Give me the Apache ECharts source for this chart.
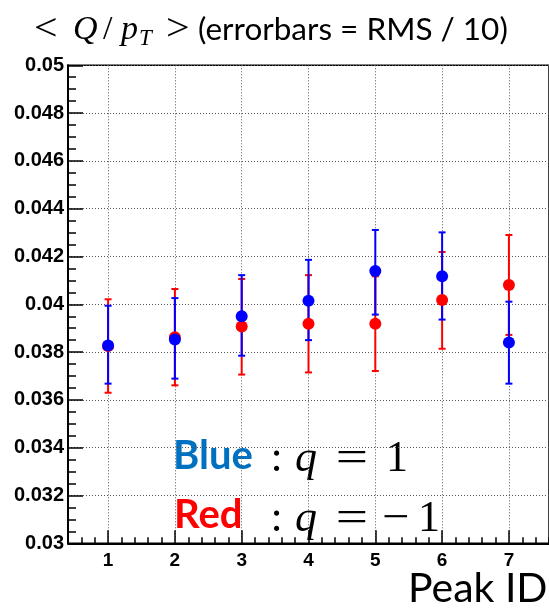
<!DOCTYPE html>
<html>
<head>
<meta charset="utf-8">
<script src="https://cdn.jsdelivr.net/npm/echarts@6/dist/echarts.min.js"></script>
<style>
html,body{margin:0;padding:0;background:#fff;}
#c{width:549px;height:609px;}
</style>
</head>
<body>
<div id="c"></div>
<script>
// Data
var peaks = [1, 2, 3, 4, 5, 6, 7];
var blueMean = [0.03828, 0.03853, 0.03950, 0.04015, 0.04139, 0.04117, 0.03840];
var blueLow  = [0.03668, 0.03689, 0.03785, 0.03850, 0.03957, 0.03936, 0.03668];
var blueHigh = [0.03994, 0.04026, 0.04122, 0.04186, 0.04311, 0.04301, 0.04011];
var redMean  = [0.03825, 0.03862, 0.03907, 0.03919, 0.03919, 0.04018, 0.04081];
var redLow   = [0.03630, 0.03661, 0.03706, 0.03715, 0.03721, 0.03814, 0.03872];
var redHigh  = [0.04021, 0.04064, 0.04106, 0.04122, 0.04117, 0.04219, 0.04290];

var BLUE = '#0000ff', RED = '#ff0000';

function pts(mean){ return peaks.map(function(p,i){ return [p, mean[i]]; }); }
function errs(low, high){ return peaks.map(function(p,i){ return [p, low[i], high[i]]; }); }

function errRender(color){
  return function(params, api){
    var x = api.value(0);
    var lo = api.coord([x, api.value(1)]);
    var hi = api.coord([x, api.value(2)]);
    var cw = 3.5;
    var st = {stroke: color, lineWidth: 2};
    return {type:'group', children:[
      {type:'line', shape:{x1:lo[0], y1:lo[1], x2:hi[0], y2:hi[1]}, style:st},
      {type:'line', shape:{x1:lo[0]-cw, y1:lo[1], x2:lo[0]+cw, y2:lo[1]}, style:st},
      {type:'line', shape:{x1:hi[0]-cw, y1:hi[1], x2:hi[0]+cw, y2:hi[1]}, style:st}
    ]};
  };
}

function txt(x, y, s, font, size, opts){
  opts = opts || {};
  var el = {type:'text', x:x, y:y, style:{text:s, verticalAlign:'middle', align:opts.align||'left',
    fontFamily:font, fontSize:size, fontStyle:opts.italic?'italic':'normal', fontWeight:opts.bold?'bold':'normal',
    fill:opts.color||'#000'}};
  if (opts.sx) { el.scaleX = opts.sx; }
  return el;
}

var chart = echarts.init(document.getElementById('c'), null, {renderer:'canvas'});
var gridLeft = 68, gridTop = 65.3, gridW = 482.8, gridH = 478;
var SERIF = 'Liberation Serif';

var option = {
  animation: false,
  backgroundColor: '#ffffff',
  grid: {left: gridLeft, top: gridTop, width: gridW, height: gridH, show: true,
         borderColor: '#000', borderWidth: 1.5, backgroundColor: 'transparent'},
  xAxis: [
    {type:'value', min:0.4, max:7.6, interval:0.2, position:'bottom',
     axisLine:{show:true, lineStyle:{color:'#000', width:2}},
     axisTick:{show:true, inside:true, length:6, lineStyle:{color:'#000', width:1.5}},
     axisLabel:{show:false}, splitLine:{show:false}},
    {type:'value', min:0.4, max:7.6, position:'bottom',
     axisLine:{show:false},
     axisTick:{show:true, inside:true, length:13, customValues: peaks, lineStyle:{color:'#000', width:1.5}},
     axisLabel:{show:true, customValues: peaks, margin:8, color:'#000', fontFamily:'Liberation Sans', fontWeight:'bold', fontSize:19},
     splitLine:{show:true, lineStyle:{color:'#555', width:1, type:[1,2]}}}
  ],
  yAxis: {type:'value', min:0.03, max:0.05, interval:0.002,
    axisLine:{show:true, lineStyle:{color:'#000', width:2}},
    axisTick:{show:true, inside:true, length:15, lineStyle:{color:'#000', width:1.5}},
    minorTick:{show:true, splitNumber:4, length:8, lineStyle:{color:'#000', width:1.5}},
    axisLabel:{color:'#000', fontFamily:'Liberation Sans', fontWeight:'bold', fontSize:20, margin:4,
      formatter:function(v){ return String(Number(v.toFixed(3))); }},
    splitLine:{show:true, lineStyle:{color:'#555', width:1, type:[1,2]}}
  },
  series: [
    {type:'custom', name:'redErr', xAxisIndex:0, renderItem: errRender(RED), data: errs(redLow, redHigh), z:2},
    {type:'custom', name:'blueErr', xAxisIndex:0, renderItem: errRender(BLUE), data: errs(blueLow, blueHigh), z:3},
    {type:'scatter', name:'red', xAxisIndex:0, data: pts(redMean), symbol:'circle', symbolSize:12, itemStyle:{color:RED, opacity:1}, z:4},
    {type:'scatter', name:'blue', xAxisIndex:0, data: pts(blueMean), symbol:'circle', symbolSize:12, itemStyle:{color:BLUE, opacity:1}, z:5}
  ],
  graphic: [
    // title
    txt(34, 30, '<', SERIF, 38, {sx:1.1}),
    txt(73, 30, 'Q', SERIF, 34, {italic:true}),
    txt(103, 30, '/', SERIF, 34),
    txt(121, 30, 'p', SERIF, 34, {italic:true}),
    txt(139, 39, 'T', SERIF, 23, {italic:true}),
    txt(166, 30, '>', SERIF, 38, {sx:1.1}),
    txt(198, 30, '(errorbars = RMS / 10)', 'Lato', 31.5),
    // annotation
    txt(173, 456, 'Blue', 'Lato', 40, {bold:true, color:'#0070c0'}),
    txt(276.5, 459, ':', SERIF, 44, {align:'center'}),
    txt(295, 459, 'q', SERIF, 44, {italic:true}),
    txt(352, 459, '=', SERIF, 44, {align:'center', sx:1.3}),
    txt(397, 459, '1', SERIF, 44, {align:'center'}),
    txt(174, 515, 'Red', 'Lato', 40, {bold:true, color:'#ff0000'}),
    txt(276.5, 519, ':', SERIF, 44, {align:'center'}),
    txt(295, 519, 'q', SERIF, 44, {italic:true}),
    txt(352, 519, '=', SERIF, 44, {align:'center', sx:1.3}),
    txt(396, 519, '\u2212', SERIF, 44, {align:'center', sx:1.1}),
    txt(429, 519, '1', SERIF, 44, {align:'center'}),
    txt(408, 589, 'Peak ID', 'Lato', 41)
  ]
};
chart.setOption(option);
</script>
</body>
</html>
